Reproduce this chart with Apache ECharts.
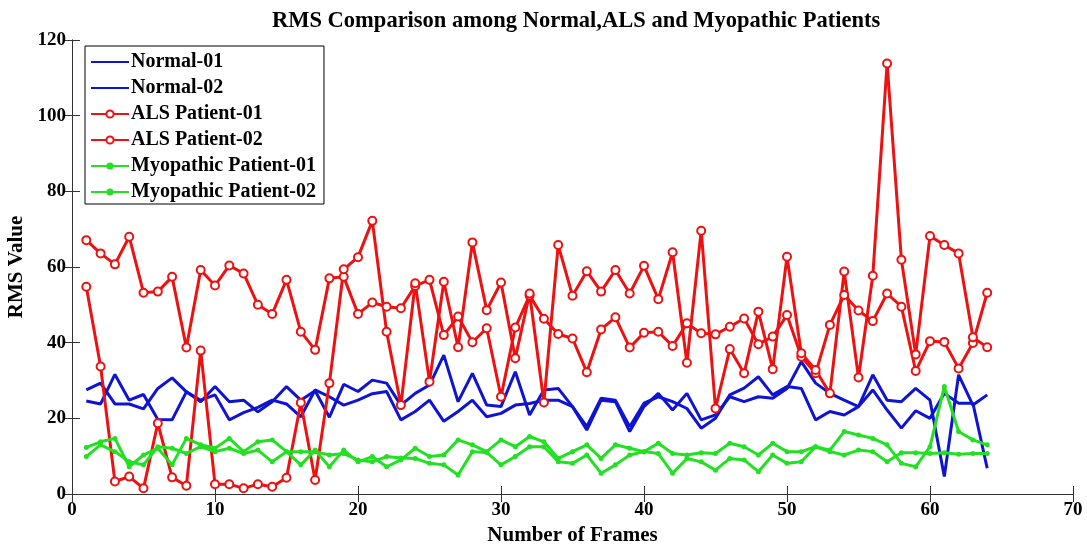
<!DOCTYPE html>
<html>
<head>
<meta charset="utf-8">
<script src="https://cdn.jsdelivr.net/npm/echarts@6/dist/echarts.min.js"></script>
<style>
html,body{margin:0;padding:0;background:#fff;}
#chart{width:1087px;height:546px;}
</style>
</head>
<body>
<div id="chart"></div>
<script>
var titleText = "RMS Comparison among Normal,ALS and Myopathic Patients";
var xAxisName = "Number of Frames";
var yAxisName = "RMS Value";
var seriesNames = ["Normal-01","Normal-02","ALS Patient-01","ALS Patient-02","Myopathic Patient-01","Myopathic Patient-02"];

var frames = [];
for (var i = 1; i <= 64; i++) frames.push(i);

var normal01 = [27.5,29.3,23.8,23.8,22.5,27.9,30.7,27.0,24.4,28.4,24.4,24.8,21.7,24.4,28.4,24.8,27.3,20.3,29.0,27.1,30.1,29.3,23.5,26.6,28.8,36.7,24.4,31.9,23.5,23.1,32.3,20.9,27.5,27.9,23.1,16.9,24.8,24.4,16.5,23.1,26.6,22.2,26.6,19.6,20.9,25.7,24.4,25.7,25.3,27.9,35.0,29.3,26.6,24.8,23.1,31.5,24.8,24.4,27.9,24.8,4.6,31.5,23.5,26.2];
var normal02 = [24.6,23.8,31.6,24.8,26.3,19.7,19.6,27.0,24.8,26.2,19.6,21.5,22.9,24.8,23.8,20.4,27.5,25.7,23.5,24.8,26.5,27.1,19.6,21.8,24.8,19.2,21.8,24.8,20.4,21.3,23.5,23.9,24.8,24.8,23.1,17.8,25.3,24.8,17.8,24.0,25.7,24.4,22.6,17.4,20.0,26.2,28.0,31.0,26.2,28.4,27.9,19.6,21.8,20.9,23.1,27.5,22.2,17.4,22.0,20.0,26.6,24.0,24.0,6.8];
var als01 = [67.1,63.6,60.7,68.0,53.2,53.5,57.4,38.7,59.2,55.1,60.4,58.3,50.0,47.6,56.6,42.9,38.1,57.0,57.4,47.6,50.6,49.5,49.1,55.0,56.6,42.0,46.9,40.1,43.8,25.7,44.0,52.5,46.3,42.3,41.1,32.2,43.5,46.7,38.7,42.6,42.9,39.1,45.1,42.5,42.2,44.2,46.4,39.6,41.6,47.3,36.3,31.9,44.7,52.6,48.5,45.7,53.0,49.5,32.5,40.4,40.2,33.2,39.9,53.2];
var als02 = [54.8,33.7,3.3,4.6,1.5,18.7,4.4,2.2,37.9,2.6,2.6,1.5,2.6,1.9,4.3,24.1,3.7,29.3,59.4,62.6,72.2,42.9,23.5,55.7,29.7,56.1,38.8,66.5,48.6,55.9,35.9,53.0,24.2,65.8,52.4,58.9,53.5,59.2,53.0,60.3,51.5,63.9,34.7,69.6,22.6,38.3,31.9,48.2,33.0,62.7,37.2,32.8,26.6,58.8,30.8,57.7,113.8,61.9,36.9,68.2,65.8,63.6,41.4,38.8];
var myo01 = [12.3,13.8,14.7,7.2,10.3,12.1,7.7,14.7,13.0,12.1,14.7,11.2,13.8,14.3,11.2,7.7,11.6,7.2,11.6,8.5,9.9,7.2,9.0,12.1,9.9,10.3,14.3,13.0,11.2,14.3,12.5,15.2,13.8,9.4,11.2,13.0,9.4,13.0,12.1,11.2,13.4,10.7,10.3,10.9,10.7,13.4,12.5,10.3,13.4,11.2,11.2,12.5,11.6,16.5,15.6,14.7,13.0,8.1,7.2,12.5,28.4,16.5,14.3,13.0];
var myo02 = [9.9,13.0,11.2,8.5,7.7,12.5,12.1,10.7,12.5,11.2,12.1,10.7,11.6,8.5,11.2,11.2,11.2,10.3,10.7,9.0,8.5,9.9,9.5,9.4,8.1,7.7,5.0,11.2,11.0,7.7,9.9,12.5,12.5,8.5,8.1,10.3,5.5,7.7,10.3,11.2,10.7,5.5,9.4,8.5,6.3,9.4,9.0,5.9,10.3,8.1,8.5,12.5,11.2,10.3,11.6,11.2,8.5,10.9,10.9,10.7,10.9,10.5,10.7,10.7];

var xTicks = {min: 0, max: 70, interval: 10};
var yTicks = {min: 0, max: 120, interval: 20};

function pairs(vals){ return frames.map(function(f,i){ return [f, vals[i]]; }); }

var FONT = "'Liberation Serif', 'DejaVu Serif', serif";
var BLUE = '#0f14d2', RED = '#ee1111', GREEN = '#22e022';

var chart = echarts.init(document.getElementById('chart'), null, {renderer:'canvas'});

function lineSeries(name, vals, color, symbol, size){
  return {
    name: name, type: 'line', data: pairs(vals),
    xAxisIndex: 0, yAxisIndex: 0,
    symbol: symbol === 'none' ? 'circle' : symbol, symbolSize: size, showSymbol: symbol !== 'none',
    lineStyle: {color: color, width: 3},
    itemStyle: {color: color, borderColor: color, borderWidth: symbol === 'emptyCircle' ? 2 : 0},
    emphasis: {disabled: true}, animation: false, z: 2
  };
}

var axisLine = {show: true, lineStyle: {color: '#333', width: 1}};
var labelStyle = {color: '#000', fontFamily: FONT, fontWeight: 'bold', fontSize: 19};
var nameStyle = {fontFamily: FONT, fontWeight: 'bold', fontSize: 21, color: '#000'};

chart.setOption({
  backgroundColor: '#fff',
  animation: false,
  title: {
    text: titleText, left: 267, top: 5,
    textStyle: {fontFamily: FONT, fontWeight: 'bold', fontSize: 22.5, color: '#000'}
  },
  grid: {left: 72, right: 14, top: 40, bottom: 52, containLabel: false, outerBoundsMode: 'none'},
  legend: {
    data: [
      {name: seriesNames[0], itemStyle: {opacity: 0}},
      {name: seriesNames[1], itemStyle: {opacity: 0}},
      {name: seriesNames[2]},
      {name: seriesNames[3]},
      {name: seriesNames[4]},
      {name: seriesNames[5]}
    ],
    orient: 'vertical', left: 85, top: 46,
    itemWidth: 38, itemHeight: 9, itemGap: 6,
    padding: [6, 8, 2, 5],
    borderColor: '#000', borderWidth: 1, backgroundColor: '#fff',
    textStyle: {fontFamily: FONT, fontWeight: 'bold', fontSize: 20, color: '#000', padding: [0,0,0,-3], lineHeight: 20},
    z: 10
  },
  xAxis: [{
    type: 'value', min: xTicks.min, max: xTicks.max, interval: xTicks.interval,
    name: xAxisName, nameLocation: 'middle', nameGap: 30, nameTextStyle: nameStyle,
    axisLine: axisLine, axisTick: {inside: true, length: 8, lineStyle: {color: '#333'}},
    axisLabel: Object.assign({margin: 7}, labelStyle), splitLine: {show: false}
  },{
    type: 'value', position: 'top', min: xTicks.min, max: xTicks.max, interval: xTicks.interval,
    axisLine: axisLine, axisTick: {inside: true, length: 8, lineStyle: {color: '#333'}},
    axisLabel: {show: false}, splitLine: {show: false}
  }],
  yAxis: [{
    type: 'value', min: yTicks.min, max: yTicks.max, interval: yTicks.interval,
    name: yAxisName, nameLocation: 'middle', nameGap: 44, nameRotate: 90, nameTextStyle: nameStyle,
    axisLine: axisLine, axisTick: {inside: true, length: 8, lineStyle: {color: '#333'}},
    axisLabel: Object.assign({margin: 6}, labelStyle), splitLine: {show: false}
  },{
    type: 'value', position: 'right', min: yTicks.min, max: yTicks.max, interval: yTicks.interval,
    axisLine: axisLine, axisTick: {inside: true, length: 8, lineStyle: {color: '#333'}},
    axisLabel: {show: false}, splitLine: {show: false}
  }],
  series: [
    lineSeries(seriesNames[0], normal01, BLUE, 'none', 0),
    lineSeries(seriesNames[1], normal02, BLUE, 'none', 0),
    lineSeries(seriesNames[2], als01, RED, 'emptyCircle', 8),
    lineSeries(seriesNames[3], als02, RED, 'emptyCircle', 8),
    lineSeries(seriesNames[4], myo01, GREEN, 'circle', 5),
    lineSeries(seriesNames[5], myo02, GREEN, 'circle', 5)
  ]
});
</script>
</body>
</html>
